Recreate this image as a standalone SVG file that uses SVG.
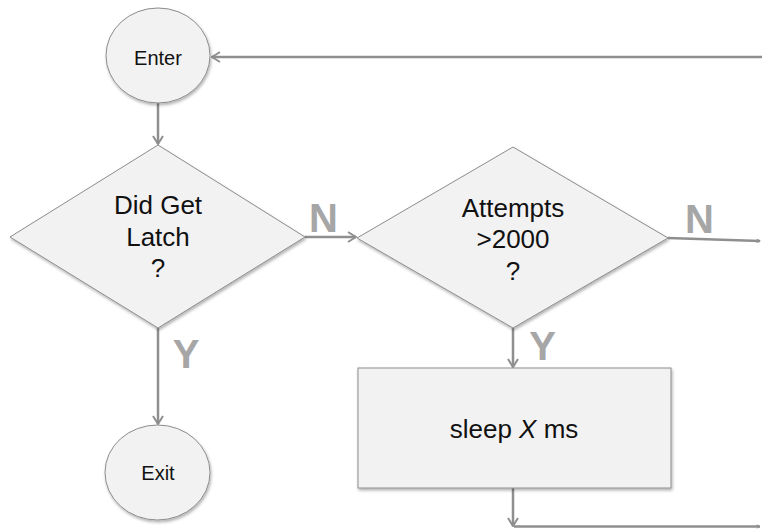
<svg xmlns="http://www.w3.org/2000/svg" width="762" height="529" viewBox="0 0 762 529">
<defs>
<style>
.shape{fill:#f2f2f2;stroke:#8c8c8c;stroke-width:1;filter:url(#sh)}
.txt{font-family:"Liberation Sans",Arial,sans-serif;fill:#111;text-anchor:middle}
.lbl{font-family:"Liberation Sans",Arial,sans-serif;font-weight:bold;font-size:40px;fill:#a6a6a6;text-anchor:middle}
.con{fill:none;stroke:#8f8f8f;stroke-width:2.5}
</style>
<filter id="sh" x="-10%" y="-10%" width="130%" height="130%">
<feDropShadow dx="1" dy="2" stdDeviation="1.5" flood-color="#000" flood-opacity="0.3"/>
</filter>
<marker id="arr" viewBox="0 0 10 12" refX="9" refY="6" markerWidth="10" markerHeight="12" markerUnits="userSpaceOnUse" orient="auto">
<path d="M1,1 L9,6 L1,11" fill="none" stroke="#8f8f8f" stroke-width="2"/>
</marker>
<marker id="sm" viewBox="0 0 6 6" refX="5" refY="3" markerWidth="5" markerHeight="5" markerUnits="userSpaceOnUse" orient="auto">
<path d="M1,1 L5,3 L1,5" fill="none" stroke="#8f8f8f" stroke-width="1.2"/>
</marker>
</defs>
<g id="connectors">
<path class="con" d="M762,57 L212,57" marker-end="url(#arr)"/>
<path class="con" d="M158,103 L158,144" marker-end="url(#arr)"/>
<path class="con" d="M305,237 L356,237" marker-end="url(#arr)"/>
<path class="con" d="M158,328 L158,424" marker-end="url(#arr)"/>
<path class="con" d="M668,238 L760,241" marker-end="url(#sm)"/>
<path class="con" d="M513,328 L513,367" marker-end="url(#arr)"/>
<path class="con" d="M513,488 L513,526" marker-end="url(#arr)"/>
<path class="con" d="M514,526.5 L760,526.5" marker-end="url(#sm)"/>
</g>
<g id="enter">
<ellipse class="shape" cx="158" cy="55.5" rx="52" ry="47.5"/>
<text class="txt" x="158" y="65" font-size="20">Enter</text>
</g>
<g id="didGetLatch">
<polygon class="shape" points="158,145 305,237 158,328 10,237"/>
<text class="txt" font-size="26"><tspan x="158" y="214">Did Get</tspan><tspan x="158" y="246">Latch</tspan><tspan x="158" y="277">?</tspan></text>
</g>
<g id="attempts">
<polygon class="shape" points="513,147 668,238 513,328 357,238"/>
<text class="txt" font-size="26"><tspan x="513" y="217">Attempts</tspan><tspan x="513" y="248">&gt;2000</tspan><tspan x="513" y="280">?</tspan></text>
</g>
<g id="sleep">
<rect class="shape" x="358" y="368" width="313" height="120"/>
<text class="txt" x="514" y="438" font-size="26">sleep <tspan font-style="italic">X</tspan> ms</text>
</g>
<g id="exit">
<ellipse class="shape" cx="157.5" cy="472.5" rx="52.5" ry="47.5"/>
<text class="txt" x="158" y="480" font-size="20">Exit</text>
</g>
<g id="labels">
<text class="lbl" x="323.5" y="232">N</text>
<text class="lbl" x="699.5" y="233">N</text>
<text class="lbl" x="186" y="368">Y</text>
<text class="lbl" x="542.5" y="360">Y</text>
</g>
</svg>
